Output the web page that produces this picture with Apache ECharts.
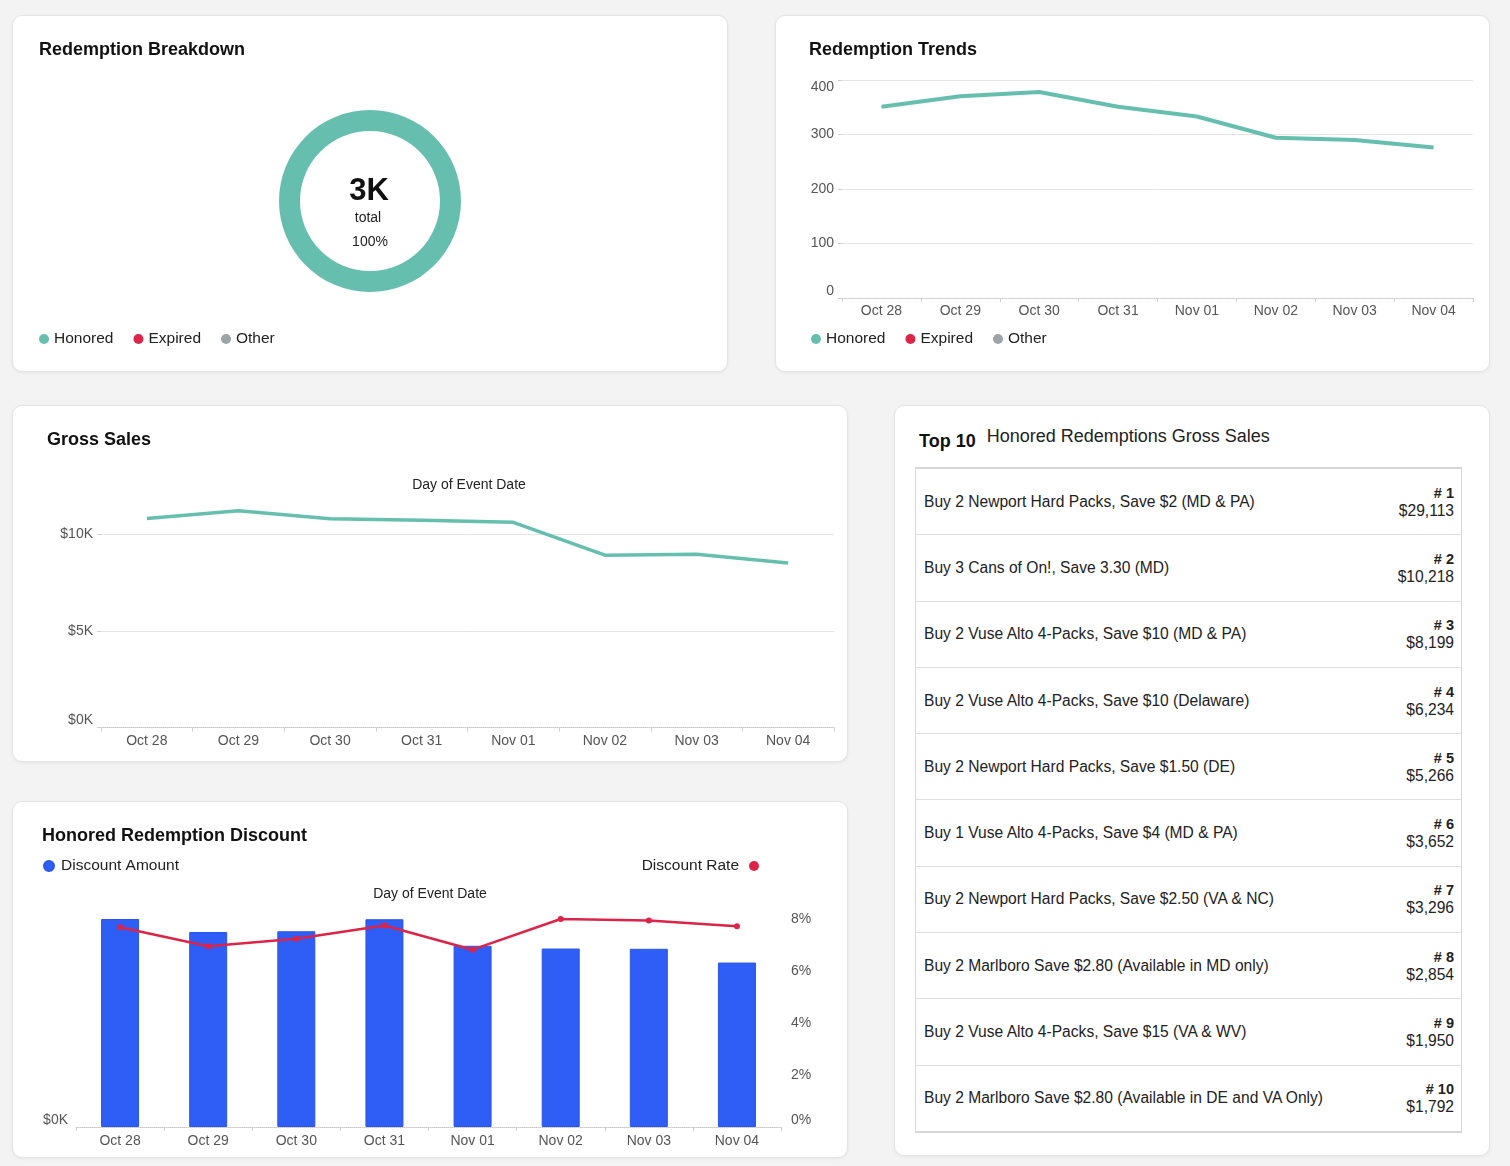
<!DOCTYPE html>
<html>
<head>
<meta charset="utf-8">
<title>Redemption Dashboard</title>
<script src="https://cdn.jsdelivr.net/npm/echarts@6/dist/echarts.min.js"></script>
<style>
  html, body { margin: 0; padding: 0; }
  body {
    width: 1510px; height: 1166px; background: #f3f3f3; position: relative;
    font-family: Helvetica, Arial, "Liberation Sans", sans-serif; color: #222;
  }
  .card {
    position: absolute; background: #fff; border: 1px solid #e4e4e4;
    border-radius: 10px; box-shadow: 0 1px 3px rgba(0,0,0,0.06); box-sizing: border-box;
  }
  .chart { position: absolute; left: 0; top: 0; width: 100%; height: 100%; }
  #top10 .head { position: absolute; left: 24px; top: 20px; white-space: nowrap; }
  #top10 .head b { font-size: 18px; color: #111; margin-right: 11px; position: relative; top: 5px; }
  #top10 .head span { font-size: 18px; color: #222; }
  #top10 table {
    position: absolute; left: 20px; top: 61px; width: 547px; border-collapse: collapse;
    border: 1px solid #d6d6d6; border-top: 2px solid #d6d6d6; border-bottom: 2px solid #d6d6d6;
  }
  #top10 td { height: 65.3px; border-bottom: 1.5px solid #dedede; font-size: 15.6px; padding: 0; }
  #top10 td.name { padding-left: 8px; }
  #top10 td.val { text-align: right; padding-right: 7px; line-height: 18px; width: 110px; }
  #top10 td.val b { font-size: 14.5px; }
</style>
</head>
<body>

<div class="card" style="left:12px;top:15px;width:716px;height:357px;"><div id="breakdown" class="chart"></div></div>
<div class="card" style="left:775px;top:15px;width:715px;height:357px;"><div id="trends" class="chart"></div></div>
<div class="card" style="left:12px;top:405px;width:836px;height:357px;"><div id="sales" class="chart"></div></div>
<div class="card" style="left:12px;top:801px;width:836px;height:357px;"><div id="discount" class="chart"></div></div>
<div class="card" id="top10" style="left:894px;top:405px;width:596px;height:751px;">
  <div class="head"><b>Top 10</b><span>Honored Redemptions Gross Sales</span></div>
  <table><tbody id="top10body"></tbody></table>
</div>

<script>
// ---- data ----
var dates = ['Oct 28', 'Oct 29', 'Oct 30', 'Oct 31', 'Nov 01', 'Nov 02', 'Nov 03', 'Nov 04'];
var statusNames = ['Honored', 'Expired', 'Other'];
var statusTotals = [2643, 0, 0];
var honoredCounts = [351, 370, 378, 351, 333, 294, 290, 276];
var expiredCounts = [];
var otherCounts = [];
var grossSales = [10816, 11209, 10801, 10714, 10612, 8913, 8964, 8505];
var discountAmounts = [831, 779, 782, 830, 724, 713, 712, 657];
var discountRates = [7.68, 6.95, 7.24, 7.75, 6.82, 8.0, 7.94, 7.72];
var topPromos = [
  'Buy 2 Newport Hard Packs, Save $2 (MD & PA)',
  'Buy 3 Cans of On!, Save 3.30 (MD)',
  'Buy 2 Vuse Alto 4-Packs, Save $10 (MD & PA)',
  'Buy 2 Vuse Alto 4-Packs, Save $10 (Delaware)',
  'Buy 2 Newport Hard Packs, Save $1.50 (DE)',
  'Buy 1 Vuse Alto 4-Packs, Save $4 (MD & PA)',
  'Buy 2 Newport Hard Packs, Save $2.50 (VA & NC)',
  'Buy 2 Marlboro Save $2.80 (Available in MD only)',
  'Buy 2 Vuse Alto 4-Packs, Save $15 (VA & WV)',
  'Buy 2 Marlboro Save $2.80 (Available in DE and VA Only)'
];
var topSales = [29113, 10218, 8199, 6234, 5266, 3652, 3296, 2854, 1950, 1792];

var FONT = 'Helvetica, Arial, "Liberation Sans", sans-serif';
var TEAL = '#66bfae';
var RED = '#dc2448';
var GREY = '#9ea3a8';
var BLUE = '#2f5ef6';
var statusColors = [TEAL, RED, GREY];

function titleOf(text, left) {
  return { text: text, left: left, top: 25, padding: 0,
           textStyle: { fontSize: 18, fontWeight: 'bold', color: '#111', fontFamily: FONT } };
}
var axisLabelStyle = { fontSize: 14, color: '#555', fontFamily: FONT };
var legendText = { fontSize: 15.5, color: '#222', fontFamily: FONT };
var dottedAxis = { show: true, lineStyle: { color: '#c8c8c8', type: 'dotted', width: 1 } };
var smallTick = { show: true, length: 4, lineStyle: { color: '#d0d0d0' } };

// ---- breakdown donut ----
var total = statusTotals.reduce(function (a, b) { return a + b; }, 0);
var breakdown = echarts.init(document.getElementById('breakdown'));
breakdown.setOption({
  textStyle: { fontFamily: FONT },
  title: titleOf('Redemption Breakdown', 26),
  legend: {
    left: 26, top: 315, padding: 0, icon: 'circle', itemWidth: 10, itemHeight: 10, itemGap: 20,
    textStyle: legendText, data: statusNames
  },
  series: [{
    type: 'pie', center: [357, 185], radius: [70, 91], silent: true,
    label: { show: false }, labelLine: { show: false },
    data: statusNames.map(function (n, i) {
      return { name: n, value: statusTotals[i], itemStyle: { color: statusColors[i] } };
    })
  }],
  graphic: [
    { type: 'text', x: 356, y: 175, style: { text: Math.round(total / 1000) + 'K', align: 'center', verticalAlign: 'middle', font: 'bold 31px ' + FONT, fill: '#111' } },
    { type: 'text', x: 355, y: 202, style: { text: 'total', align: 'center', verticalAlign: 'middle', font: '14px ' + FONT, fill: '#222' } },
    { type: 'text', x: 357, y: 226, style: { text: '100%', align: 'center', verticalAlign: 'middle', font: '14px ' + FONT, fill: '#222' } }
  ]
});

// ---- redemption trends ----
var trends = echarts.init(document.getElementById('trends'));
trends.setOption({
  textStyle: { fontFamily: FONT },
  title: titleOf('Redemption Trends', 33),
  legend: {
    left: 35, top: 315, padding: 0, icon: 'circle', itemWidth: 10, itemHeight: 10, itemGap: 20,
    textStyle: legendText
  },
  grid: { left: 66, right: 16, top: 64, bottom: 73 },
  xAxis: {
    type: 'category', data: dates, boundaryGap: true,
    axisLine: dottedAxis, axisTick: smallTick,
    axisLabel: Object.assign({ margin: 6 }, axisLabelStyle)
  },
  yAxis: {
    type: 'value', min: 0, max: 400, interval: 100,
    axisLine: { show: false }, axisTick: smallTick,
    axisLabel: Object.assign({ margin: 8, verticalAlignMinLabel: 'bottom', verticalAlignMaxLabel: 'top' }, axisLabelStyle),
    splitLine: { lineStyle: { color: ['transparent', '#e4e4e4', '#e4e4e4', '#e4e4e4', '#e4e4e4'] } }
  },
  series: [
    { name: 'Honored', type: 'line', data: honoredCounts, color: TEAL, showSymbol: false, lineStyle: { width: 4 } },
    { name: 'Expired', type: 'line', data: expiredCounts, color: RED, showSymbol: false },
    { name: 'Other', type: 'line', data: otherCounts, color: GREY, showSymbol: false }
  ]
});

// ---- gross sales ----
var sales = echarts.init(document.getElementById('sales'));
sales.setOption({
  textStyle: { fontFamily: FONT },
  title: titleOf('Gross Sales', 34),
  grid: { left: 88, right: 13, top: 89.5, bottom: 33.5 },
  xAxis: {
    type: 'category', data: dates, boundaryGap: true,
    axisLine: dottedAxis, axisTick: smallTick,
    axisLabel: Object.assign({ margin: 7 }, axisLabelStyle)
  },
  yAxis: {
    type: 'value', min: 0, max: 12000, interval: 5000,
    axisLine: { show: false }, axisTick: smallTick,
    axisLabel: Object.assign({
      margin: 8, showMaxLabel: false, verticalAlignMinLabel: 'bottom',
      formatter: function (v) { return '$' + (v / 1000) + 'K'; }
    }, axisLabelStyle),
    splitLine: { lineStyle: { color: ['transparent', '#e4e4e4', '#e4e4e4', 'transparent'] } }
  },
  graphic: [
    { type: 'text', x: 456, y: 79, style: { text: 'Day of Event Date', align: 'center', verticalAlign: 'middle', font: '14px ' + FONT, fill: '#222' } }
  ],
  series: [
    { name: 'Gross Sales', type: 'line', data: grossSales, color: TEAL, showSymbol: false, lineStyle: { width: 3.5 } }
  ]
});

// ---- honored redemption discount ----
var discount = echarts.init(document.getElementById('discount'));
discount.setOption({
  textStyle: { fontFamily: FONT },
  title: titleOf('Honored Redemption Discount', 29),
  legend: [
    { data: ['Discount Amount'], left: 30, top: 56, padding: 0, icon: 'circle', itemWidth: 10, itemHeight: 10,
      textStyle: Object.assign({ padding: [0, 0, 0, 2] }, legendText) },
    { data: ['Discount Rate'], right: 88, top: 56, padding: 0, align: 'right', icon: 'circle', itemWidth: 10, itemHeight: 10,
      textStyle: Object.assign({ padding: [0, 5, 0, 0] }, legendText) }
  ],
  grid: { left: 63, right: 66, top: 117, bottom: 30 },
  xAxis: {
    type: 'category', data: dates, boundaryGap: true,
    axisLine: dottedAxis, axisTick: smallTick,
    axisLabel: Object.assign({ margin: 7 }, axisLabelStyle)
  },
  yAxis: [
    { type: 'value', min: 0, max: function (e) { return e.max; },
      axisLine: { show: false }, axisTick: { show: false }, splitLine: { show: false },
      axisLabel: Object.assign({
        margin: 8, verticalAlignMinLabel: 'bottom',
        formatter: function (v) { return v === 0 ? '$0K' : ''; }
      }, axisLabelStyle) },
    { type: 'value', min: 0, max: 8, interval: 2, position: 'right',
      axisLine: { show: false }, axisTick: { show: false }, splitLine: { show: false },
      axisLabel: Object.assign({ margin: 10, verticalAlignMinLabel: 'bottom', formatter: '{value}%' }, axisLabelStyle) }
  ],
  graphic: [
    { type: 'text', x: 417, y: 92, style: { text: 'Day of Event Date', align: 'center', verticalAlign: 'middle', font: '14px ' + FONT, fill: '#222' } }
  ],
  series: [
    { name: 'Discount Amount', type: 'bar', data: discountAmounts, color: BLUE, barWidth: 38,
      itemStyle: { borderColor: '#2a55e8', borderWidth: 1 } },
    { name: 'Discount Rate', type: 'line', yAxisIndex: 1, data: discountRates, color: RED,
      symbol: 'circle', symbolSize: 6, lineStyle: { width: 2.5 } }
  ]
});

// ---- top 10 table ----
var rows = '';
topPromos.forEach(function (p, i) {
  rows += '<tr><td class="name">' + p.replace(/&/g, '&amp;') + '</td>' +
          '<td class="val"><b># ' + (i + 1) + '</b><br>$' + topSales[i].toLocaleString('en-US') + '</td></tr>';
});
document.getElementById('top10body').innerHTML = rows;
</script>
</body>
</html>
